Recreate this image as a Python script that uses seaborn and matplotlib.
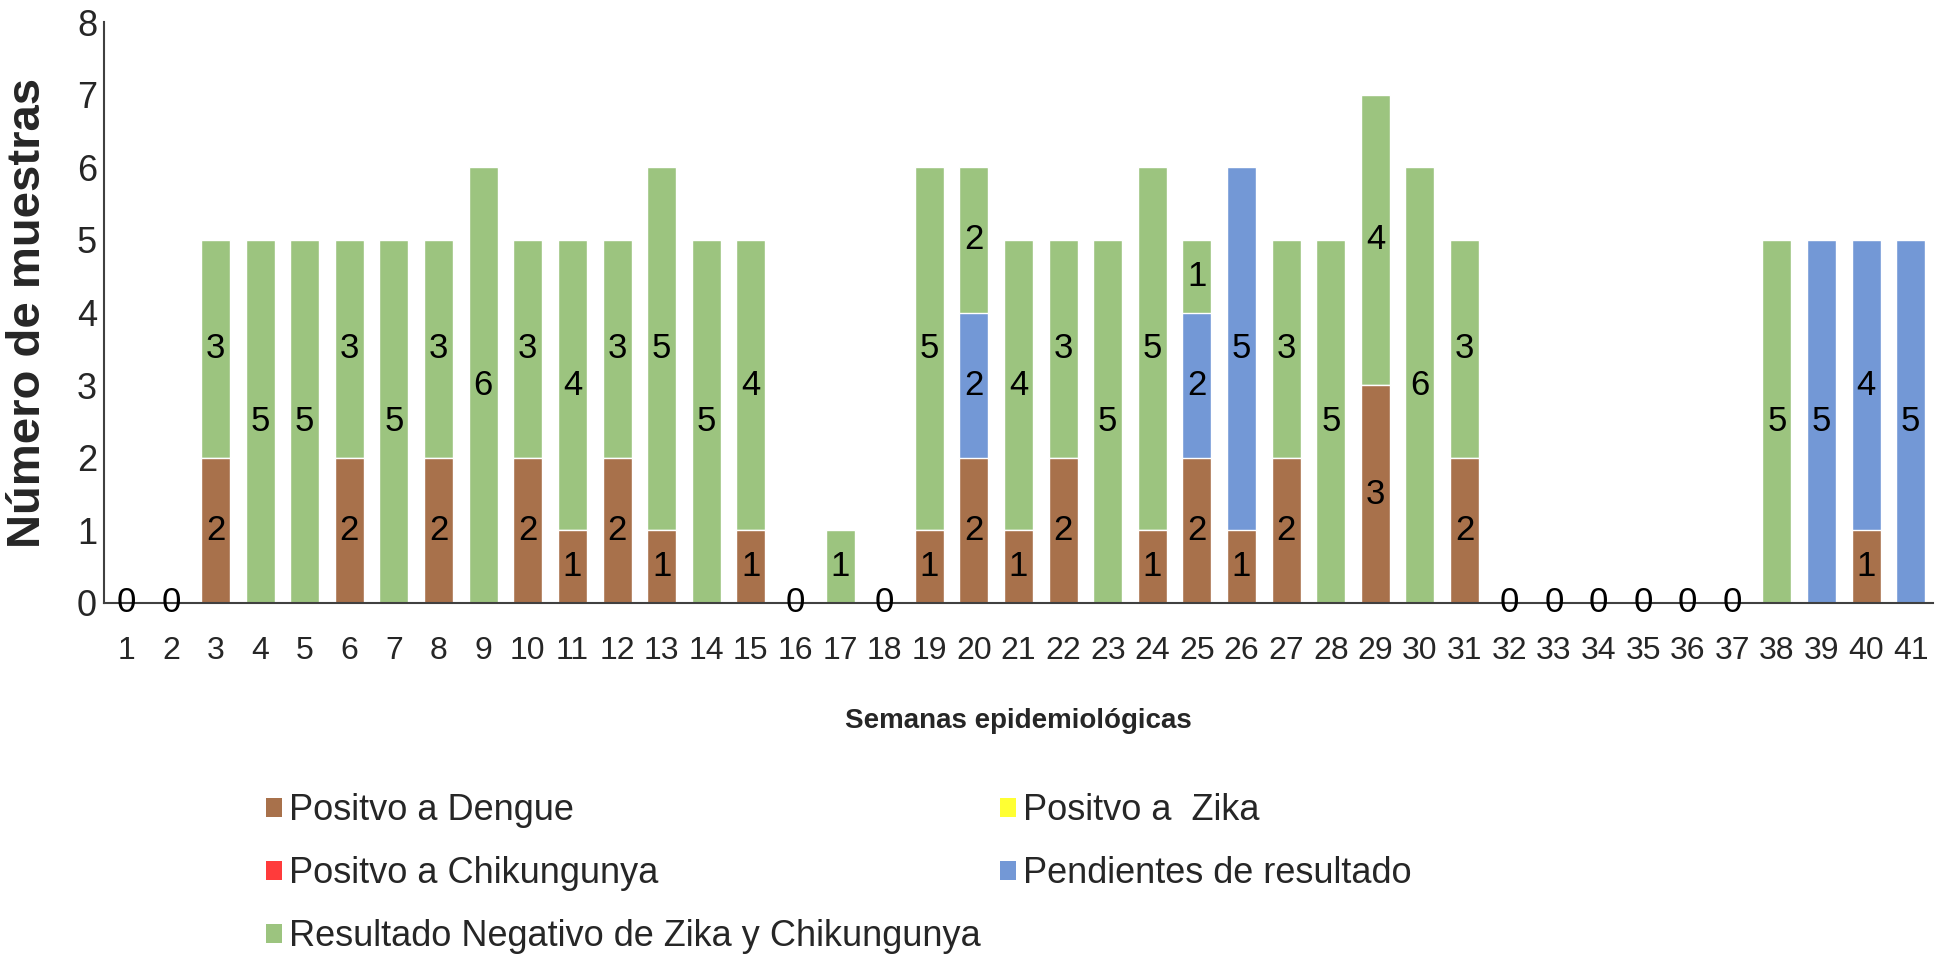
import pandas as pd
import matplotlib
matplotlib.use("Agg")
import matplotlib.pyplot as plt
import seaborn as sns
from matplotlib.patches import Patch

# ================================
# Data
# ================================
weeks = [str(w) for w in range(1, 42)]
dengue = [0, 0, 2, 0, 0, 2, 0, 2, 0, 2, 1, 2, 1, 0, 1, 0, 0, 0, 1, 2, 1,
          2, 0, 1, 2, 1, 2, 0, 3, 0, 2, 0, 0, 0, 0, 0, 0, 0, 0, 1, 0]
zika = [0] * 41
chikungunya = [0] * 41
pendientes = [0, 0, 0, 0, 0, 0, 0, 0, 0, 0, 0, 0, 0, 0, 0, 0, 0, 0, 0, 2, 0,
              0, 0, 0, 2, 5, 0, 0, 0, 0, 0, 0, 0, 0, 0, 0, 0, 0, 5, 4, 5]
negativo = [0, 0, 3, 5, 5, 3, 5, 3, 6, 3, 4, 3, 5, 5, 4, 0, 1, 0, 5, 2, 4,
            3, 5, 5, 1, 0, 3, 5, 4, 6, 3, 0, 0, 0, 0, 0, 0, 5, 0, 0, 0]

series_names = ["Positvo a Dengue", "Positvo a  Zika", "Positvo a Chikungunya",
                "Pendientes de resultado", "Resultado Negativo de Zika y Chikungunya"]
series_vals = [dengue, zika, chikungunya, pendientes, negativo]
colors = ["#A8714B", "#FFFF33", "#FF3B3B", "#7398D6", "#9CC47F"]

df = pd.DataFrame({"Semana": weeks})
for name, vals in zip(series_names, series_vals):
    df[name] = vals

# cumulative tops for layered stacking
tops = df[series_names].cumsum(axis=1)

# ================================
# Plot
# ================================
sns.set_style("white")
plt.rcParams["font.family"] = ["Liberation Sans", "DejaVu Sans"]

fig = plt.figure(figsize=(19.49, 9.58), dpi=100)
ax = fig.add_axes([104 / 1949, 1 - 603 / 958, (1933 - 104) / 1949, (603 - 22) / 958])

# draw from top layer down so lower segments cover upper ones
for i in range(len(series_names) - 1, -1, -1):
    if sum(series_vals[i]) == 0:
        continue
    sns.barplot(x=df["Semana"], y=tops[series_names[i]], order=weeks,
                color=colors[i], saturation=1, width=0.65, ax=ax, zorder=2)

# data labels centred in segments
for j, w in enumerate(weeks):
    total = tops.loc[j, series_names[-1]]
    if total == 0:
        ax.text(j, 0, "0", ha="center", va="center", fontsize=25, color="black", zorder=5)
        continue
    base = 0
    for i, name in enumerate(series_names):
        v = df.loc[j, name]
        if v > 0:
            ax.text(j, base + v / 2, str(v), ha="center", va="center",
                    fontsize=25, color="black", zorder=5)
        base += v

ax.set_ylim(0, 8)
ax.set_yticks(range(0, 9))
ax.tick_params(axis="x", labelsize=23, length=0, pad=24)
ax.tick_params(axis="y", labelsize=26, length=0, pad=5)
sns.despine(ax=ax, top=True, right=True)
for side in ["left", "bottom"]:
    ax.spines[side].set_color("#404040")
    ax.spines[side].set_linewidth(1.5)

ax.set_xlabel("Semanas epidemiológicas", fontsize=20, fontweight="bold")
ax.xaxis.set_label_coords(0.5, -(708 - 603) / 581)
ax.set_ylabel("Número de muestras", fontsize=34, fontweight="bold")
ax.yaxis.set_label_coords(-(104 - 50) / 1829, 0.5)

# legend: column-wise fill -> reorder
handles = [Patch(facecolor=c, edgecolor="none") for c in colors]
order = [0, 2, 4, 1, 3]
fig.legend([handles[k] for k in order], [series_names[k] for k in order],
           loc="upper left", bbox_to_anchor=(233 / 1949, 1 - 761 / 958),
           ncol=2, frameon=False, fontsize=26, handlelength=0.45, handleheight=0.45,
           handletextpad=0.2, labelspacing=0.77, columnspacing=0.52)

fig.savefig("out.png", dpi=100)
